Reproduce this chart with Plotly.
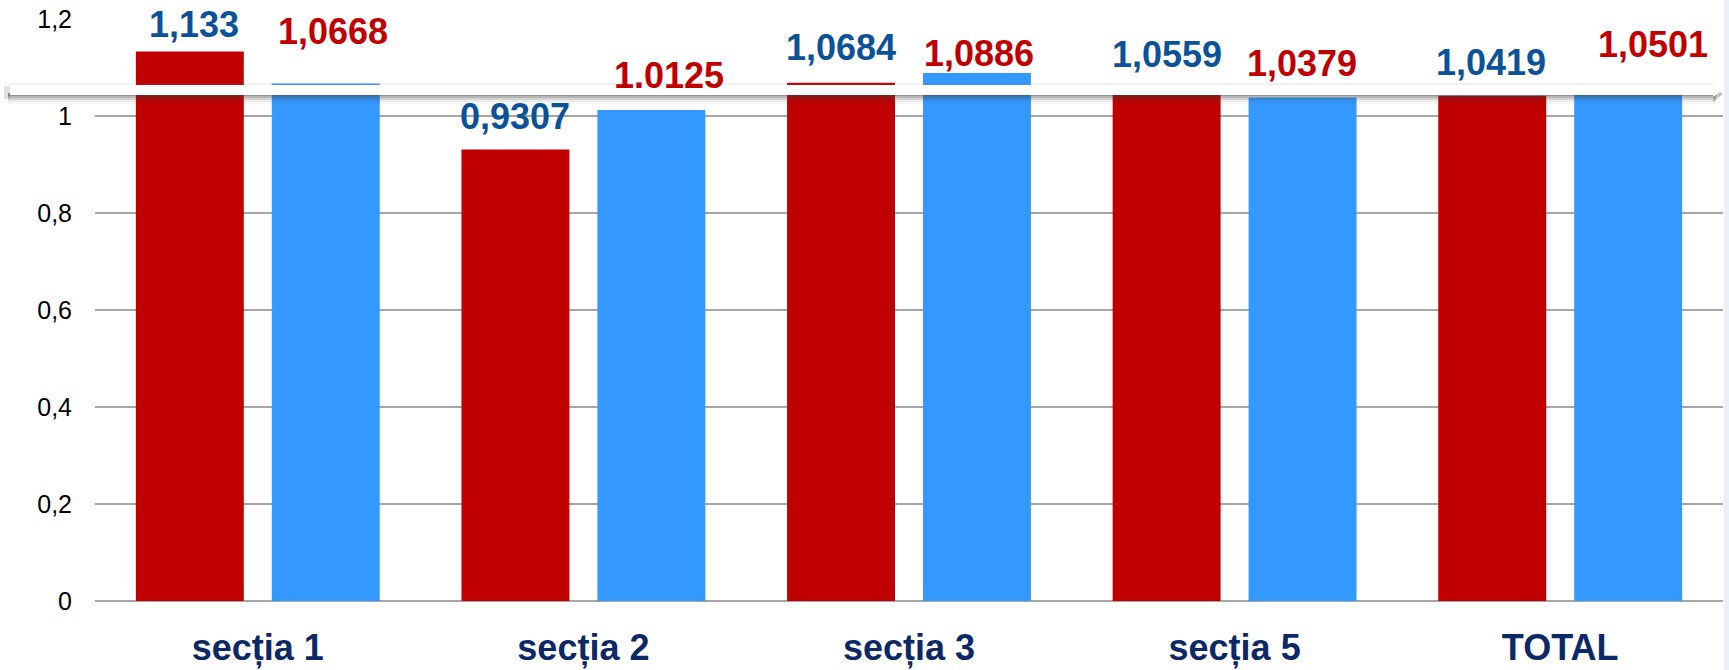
import plotly.graph_objects as go

categories = ["secția 1", "secția 2", "secția 3", "secția 5", "TOTAL"]
red_values = [1.133, 0.9307, 1.0684, 1.0559, 1.0419]
blue_values = [1.0668, 1.0125, 1.0886, 1.0379, 1.0501]
red_labels = ["1,133", "0,9307", "1,0684", "1,0559", "1,0419"]
blue_labels = ["1,0668", "1.0125", "1,0886", "1,0379", "1,0501"]
tick_vals = [0, 0.2, 0.4, 0.6, 0.8, 1.0, 1.2]
tick_text = ["0", "0,2", "0,4", "0,6", "0,8", "1", "1,2"]

# label offsets (pixels) relative to each bar top / centre
red_label_dx = [4, 0, 0, 0, -1]
red_label_dy = [27, 33, 35, 34, 33]
blue_label_dx = [7, 18, 2, -1, 25]
blue_label_dy = [52, 34, 20, 34, 47]

RED = "#c00000"
BLUE = "#3399ff"
LABEL_BLUE = "#0b5299"
NAVY = "#0d2866"
FONT = "Liberation Sans, Arial, sans-serif"

W, H = 1729, 670
L, R, T, B = 95, 6, 19, 69
PW, PH = W - L - R, H - T - B

fig = go.Figure()
fig.add_trace(go.Bar(x=categories, y=red_values, marker=dict(color=RED, line=dict(width=0)),
                     hoverinfo="skip", name="red"))
fig.add_trace(go.Bar(x=categories, y=blue_values, marker=dict(color=BLUE, line=dict(width=0)),
                     hoverinfo="skip", name="blue"))

half = 0.5 * (PW / len(categories)) * (1 - 0.165) / 2  # half distance between bar centres
annotations = []
for i, c in enumerate(categories):
    annotations.append(dict(x=c, y=red_values[i], xref="x", yref="y", text=red_labels[i],
                            showarrow=False, xshift=-half + red_label_dx[i], yshift=red_label_dy[i],
                            yanchor="middle", xanchor="center",
                            font=dict(family=FONT, size=36, color=LABEL_BLUE, weight="bold")))
    annotations.append(dict(x=c, y=blue_values[i], xref="x", yref="y", text=blue_labels[i],
                            showarrow=False, xshift=half + blue_label_dx[i], yshift=blue_label_dy[i],
                            yanchor="middle", xanchor="center",
                            font=dict(family=FONT, size=36, color=RED, weight="bold")))


def px_x(p):
    return (p - L) / PW


def px_y(p):
    return (H - B - p) / PH


shapes = []
# right decorative strip
shapes.append(dict(type="rect", xref="paper", yref="paper", x0=px_x(1724), x1=px_x(1740),
                   y0=px_y(700), y1=px_y(-20), fillcolor="#e8f1fa", line=dict(width=0), layer="below"))
# arrow shadow layers
for (y0, y1, a) in [(93, 96, 0.55), (96, 98, 0.38), (98, 100, 0.22), (100, 102, 0.10), (102, 104, 0.04)]:
    shapes.append(dict(type="rect", xref="paper", yref="paper", x0=px_x(8), x1=px_x(1716),
                       y0=px_y(y1), y1=px_y(y0), fillcolor=f"rgba(60,60,60,{a})",
                       line=dict(width=0), layer="above"))
shapes.append(dict(type="rect", xref="paper", yref="paper", x0=px_x(4), x1=px_x(10),
                   y0=px_y(99), y1=px_y(86), fillcolor="rgba(60,60,60,0.15)", line=dict(width=0)))
shapes.append(dict(type="rect", xref="paper", yref="paper", x0=px_x(8), x1=px_x(1714),
                   y0=px_y(85), y1=px_y(83), fillcolor="rgba(120,120,120,0.10)", line=dict(width=0)))
# arrowhead shadow
shapes.append(dict(type="path", xref="paper", yref="paper",
                   path=f"M {px_x(1713)},{px_y(86)} L {px_x(1723)},{px_y(94)} L {px_x(1713)},{px_y(102)} Z",
                   fillcolor="rgba(60,60,60,0.3)", line=dict(width=0)))
# white band
shapes.append(dict(type="rect", xref="paper", yref="paper", x0=px_x(10), x1=px_x(1714),
                   y0=px_y(95), y1=px_y(85), fillcolor="white", line=dict(width=0), layer="above"))
# arrowhead
shapes.append(dict(type="path", xref="paper", yref="paper",
                   path=f"M {px_x(1713)},{px_y(83)} L {px_x(1723)},{px_y(90)} L {px_x(1713)},{px_y(97)} Z",
                   fillcolor="white", line=dict(width=0)))

fig.update_layout(
    width=W, height=H,
    margin=dict(l=L, r=R, t=T, b=B, pad=0),
    paper_bgcolor="white", plot_bgcolor="white",
    barmode="group", bargap=0.165, bargroupgap=0.206,
    showlegend=False,
    font=dict(family=FONT),
    annotations=annotations,
    shapes=shapes,
    xaxis=dict(showgrid=False, showline=False, zeroline=False, ticks="", automargin=False,
               tickfont=dict(family=FONT, size=36, color=NAVY, weight="bold"),
               ticklabelstandoff=22),
    yaxis=dict(range=[0, 1.2], tickvals=tick_vals, ticktext=tick_text, automargin=False,
               showgrid=True, gridcolor="#a6a6a6", gridwidth=1.5,
               zeroline=True, zerolinecolor="#a6a6a6", zerolinewidth=1.5,
               showline=False, ticks="", ticklabelstandoff=22,
               tickfont=dict(family=FONT, size=25, color="black")),
)

fig.write_html("out.html", config={"displayModeBar": False},
               post_script="document.body.style.margin='0';document.body.style.overflow='hidden';")
